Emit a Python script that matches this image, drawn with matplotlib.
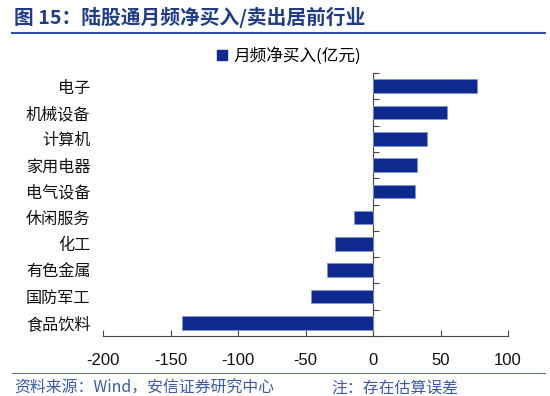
import matplotlib
matplotlib.use("Agg")
import matplotlib.pyplot as plt
import numpy as np
from matplotlib.ticker import FixedLocator
from matplotlib.lines import Line2D
from matplotlib.patches import Patch

plt.rcParams['font.family'] = ['Noto Sans CJK SC', 'DejaVu Sans']

categories = ["电子", "机械设备", "计算机", "家用电器", "电气设备",
              "休闲服务", "化工", "有色金属", "国防军工", "食品饮料"]
values = [77, 54.5, 40, 32.3, 31, -14, -28, -34.3, -46, -141.5]
xticks = [-200, -150, -100, -50, 0, 50, 100]
legend_label = "月频净买入(亿元)"
title = "图 15：陆股通月频净买入/卖出居前行业"
source = "资料来源：Wind，安信证券研究中心"
note = "注：存在估算误差"

bar_color = "#0F2A8E"
edge_color = "#7F95D8"
title_color = "#1F3C88"
foot_color = "#3A5BAA"

fig = plt.figure(figsize=(5.5, 3.96), dpi=100)
ax = fig.add_axes([103/550, 1-336/396, 405/550, 263/396])

y = np.arange(len(categories))
ax.barh(y, values, height=0.52, color=bar_color, edgecolor=edge_color, linewidth=0.6, zorder=3)

ax.set_xlim(-200, 100)
ax.set_ylim(len(categories)-0.5, -0.5)

ax.set_yticks(y)
ax.set_yticklabels(categories)
ax.tick_params(axis='y', which='major', length=0, pad=9, left=False, right=False,
               labelleft=True, labelsize=11.6, labelcolor='#111111')
ax.yaxis.set_minor_locator(FixedLocator(np.arange(-0.5, len(categories), 1)))
ax.tick_params(axis='y', which='minor', left=False, right=True, direction='out', length=4,
               color='#444444', width=0.8)

ax.spines['left'].set_visible(False)
ax.spines['top'].set_visible(False)
ax.spines['right'].set_position(('data', 0))
ax.spines['right'].set_color('#444444')
ax.spines['right'].set_linewidth(0.8)
ax.spines['bottom'].set_color('#444444')
ax.spines['bottom'].set_linewidth(0.8)

ax.set_xticks(xticks)
ax.set_xticklabels([str(v) for v in xticks])
ax.tick_params(axis='x', direction='in', length=4, pad=12, color='#444444', width=0.8,
               labelsize=12, labelfontfamily='Liberation Sans', labelcolor='#111111')

# legend
handle = Patch(facecolor=bar_color, edgecolor=bar_color)
fig.legend([handle], [legend_label], loc='center', bbox_to_anchor=(289/550, 1-56/396),
           frameon=False, fontsize=12, handlelength=0.6, handleheight=0.6,
           handletextpad=0.4, borderaxespad=0)

# title and decorations
fig.text(14/550, 1-17/396, title, fontsize=14.2, fontweight='bold', color=title_color,
         ha='left', va='center')
fig.add_artist(Line2D([12/550, 545/550], [1-32.5/396, 1-32.5/396], color='#2F4F9F',
                      linewidth=1.5, transform=fig.transFigure))
fig.add_artist(Line2D([12/550, 545/550], [1-373/396, 1-373/396], color='#5A75B8',
                      linewidth=0.8, transform=fig.transFigure))
fig.text(14/550, 1-388/396, source, fontsize=11.4, color=foot_color, ha='left', va='center',
         style='italic')
fig.text(331/550, 1-388/396, note, fontsize=11.4, color=foot_color, ha='left', va='center',
         style='italic')

fig.savefig("out.png", dpi=100)
